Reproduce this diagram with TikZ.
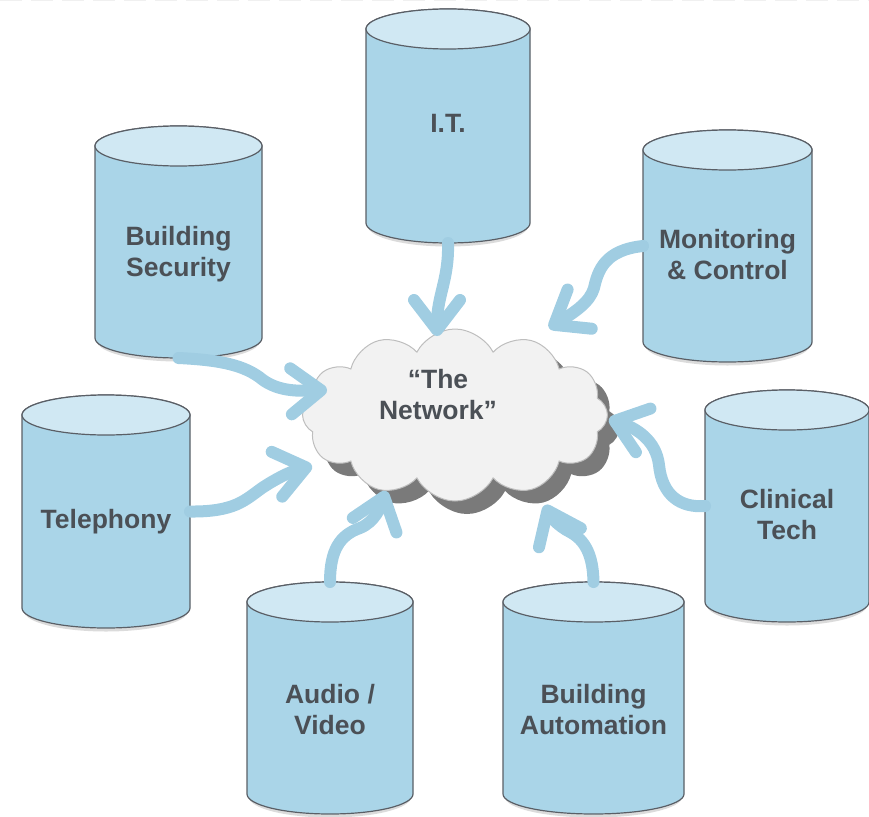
\documentclass[tikz,border=0pt]{standalone}
\usepackage{fontspec}
\setmainfont{Liberation Sans}
\usetikzlibrary{arrows.meta,shapes.symbols}
\definecolor{drumbody}{HTML}{AAD5E8}
\definecolor{drumtop}{HTML}{D0E8F3}
\definecolor{drumline}{HTML}{5A5F66}
\definecolor{flowblue}{HTML}{A0CDE2}
\definecolor{cloudfill}{HTML}{F2F2F2}
\definecolor{cloudline}{HTML}{BEBEBE}
\definecolor{cloudshade}{HTML}{7A7A7A}
\definecolor{labelgray}{HTML}{4B5056}
\tikzset{
  drumbodystyle/.style={fill=drumbody, draw=drumline, line width=1.2pt},
  drumtopstyle/.style={fill=drumtop, draw=drumline, line width=1.2pt},
  drumshade/.style={draw=black!14, line width=3pt},
  drumbox/.style={inner sep=0pt, outer sep=0pt},
  drumlabel/.style={align=center, text=labelgray, font=\fontsize{26.5}{31}\selectfont\bfseries},
  flow/.style={draw=flowblue, line width=12pt, line cap=round, line join=round,
    -{Straight Barb[length=30pt, width=46pt, round]}},
  netcloud/.style={cloud, cloud puffs=12, cloud puff arc=125, aspect=1.8,
    minimum width=305pt, minimum height=172pt, inner sep=0pt},
}
\newcommand\drum[7]{%
  \draw[drumshade] (#2-#5+3,#4-18) arc[start angle=180,end angle=0,x radius=#5-3,y radius=20];
  \filldraw[drumbodystyle] (#2-#5,#3+20) -- (#2-#5,#4-20)
     arc[start angle=180,end angle=0,x radius=#5,y radius=20]
     -- (#2+#5,#3+20) arc[start angle=0,end angle=-180,x radius=#5,y radius=20] -- cycle;
  \filldraw[drumtopstyle] (#2,#3+20) ellipse[x radius=#5, y radius=20];
  \node[drumbox, minimum width=2*#5, minimum height=#4-#3] (#1) at (#2,{(#3+#4)/2}) {};
  \node[drumlabel] (#1-t) at (#2,#6) {#7};
}
\begin{document}
\begin{tikzpicture}[x=1pt, y=-1pt]
\useasboundingbox (0,0) rectangle (869,816);
\draw[black!6, line width=3pt, dash pattern=on 22pt off 9pt] (0,0) -- (869,0);

% cloud
\node[netcloud, fill=cloudshade] (netshadow) at (467,428) {};
\node[netcloud, fill=cloudfill, draw=cloudline, line width=1pt] (net) at (455,415) {};
\node[drumlabel] (net-t) at (438,395) {“The\\Network”};

% cylinders
\drum{it}{448}{9}{243}{82}{123}{I.T.}
\drum{bsec}{178.5}{126}{358}{83.5}{254}{Building\\Security}
\drum{mon}{727.5}{130}{362}{84.5}{255}{Monitoring\\\& Control}
\drum{tel}{106}{395}{628}{84}{522}{Telephony}
\drum{clin}{787}{390}{622}{82}{515}{Clinical\\Tech}
\drum{av}{330}{582}{814}{83}{710}{Audio /\\Video}
\drum{ba}{593.5}{582}{814}{90.5}{710}{Building\\Automation}

% arrow tips on the cloud
\coordinate (t1) at (437,336);
\coordinate (t2) at (549,328);
\coordinate (t3) at (327,390);
\coordinate (t4) at (312,466);
\coordinate (t5) at (386,491);
\coordinate (t6) at (545,505);
\coordinate (t7) at (609,419);

% arrows
\draw[flow] (it.south) .. controls (449,280) and (437,295) .. (t1);
\draw[flow] (mon.west) .. controls (605,250) and (598,270) .. (594,288)
   .. controls (590,302) and (575,312) .. (t2);
\draw[flow] (bsec.south) .. controls (220,360) and (245,365) .. (263,380)
   .. controls (280,392) and (300,391) .. (t3);
\draw[flow] (tel.east) .. controls (235,512) and (245,500) .. (262,488)
   .. controls (280,476) and (295,470) .. (t4);
\draw[flow] (av.north) .. controls (330,550) and (340,535) .. (360,528)
   .. controls (375,522) and (381,506) .. (t5);
\draw[flow] (ba.north) .. controls (593,555) and (585,540) .. (570,532)
   .. controls (558,526) and (550,516) .. (t6);
\draw[flow] (clin.west) .. controls (680,508) and (662,495) .. (659,465)
   .. controls (656,440) and (636,428) .. (t7);
\end{tikzpicture}
\end{document}
